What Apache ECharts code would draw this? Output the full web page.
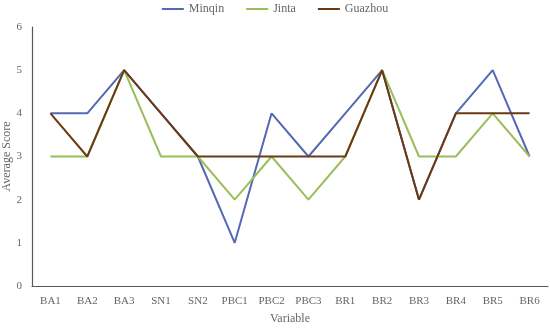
<!DOCTYPE html>
<html><head><meta charset="utf-8">
<script src="https://cdn.jsdelivr.net/npm/echarts@6/dist/echarts.min.js"></script>
<style>html,body{margin:0;padding:0;background:#fff}#c{width:550px;height:330px}</style>
</head><body><div id="c"></div>
<script>
var categories = ['BA1','BA2','BA3','SN1','SN2','PBC1','PBC2','PBC3','BR1','BR2','BR3','BR4','BR5','BR6'];
var minqin  = [4,4,5,4,3,1,4,3,4,5,2,4,5,3];
var jinta   = [3,3,5,3,3,2,3,2,3,5,3,3,4,3];
var guazhou = [4,3,5,4,3,3,3,3,3,5,2,4,4,4];
var yTicks = [0,1,2,3,4,5,6];

var font = 'Liberation Serif';
var grey = '#666';
var chart = echarts.init(document.getElementById('c'));
function ser(name, data, color){
  return {name:name, type:'line', data:data, symbol:'none', lineStyle:{width:2, color:color}, itemStyle:{color:color}};
}
chart.setOption({
  animation:false,
  textStyle:{fontFamily:font},
  legend:{top:-2, left:'center', itemWidth:22, itemHeight:2, itemGap:22, icon:'rect',
    textStyle:{fontFamily:font, color:grey, fontSize:12},
    data:['Minqin','Jinta','Guazhou']},
  grid:{left:32, right:2, top:27, bottom:44, containLabel:false, outerBoundsMode:'none'},
  xAxis:{type:'category', data:categories, boundaryGap:true,
    name:'Variable', nameLocation:'middle', nameGap:27, nameMoveOverlap:false,
    nameTextStyle:{fontFamily:font, color:grey, fontSize:12},
    axisLine:{lineStyle:{color:'#595959', width:1.2}},
    axisTick:{inside:true, length:3, lineStyle:{color:'#595959'}},
    axisLabel:{fontFamily:font, color:grey, fontSize:11, margin:10, interval:0}},
  yAxis:{type:'value', min:yTicks[0], max:yTicks[yTicks.length-1], interval:1,
    name:'Average Score', nameLocation:'middle', nameGap:19, nameMoveOverlap:false,
    nameTextStyle:{fontFamily:font, color:grey, fontSize:12},
    axisLine:{show:true, lineStyle:{color:'#595959', width:1.2}},
    axisTick:{show:false},
    splitLine:{show:false},
    axisLabel:{fontFamily:font, color:grey, fontSize:11, margin:10}},
  series:[ser('Minqin', minqin, '#5468B4'), ser('Jinta', jinta, '#9BBE5A'), ser('Guazhou', guazhou, '#6B3A12')]
});
</script></body></html>
